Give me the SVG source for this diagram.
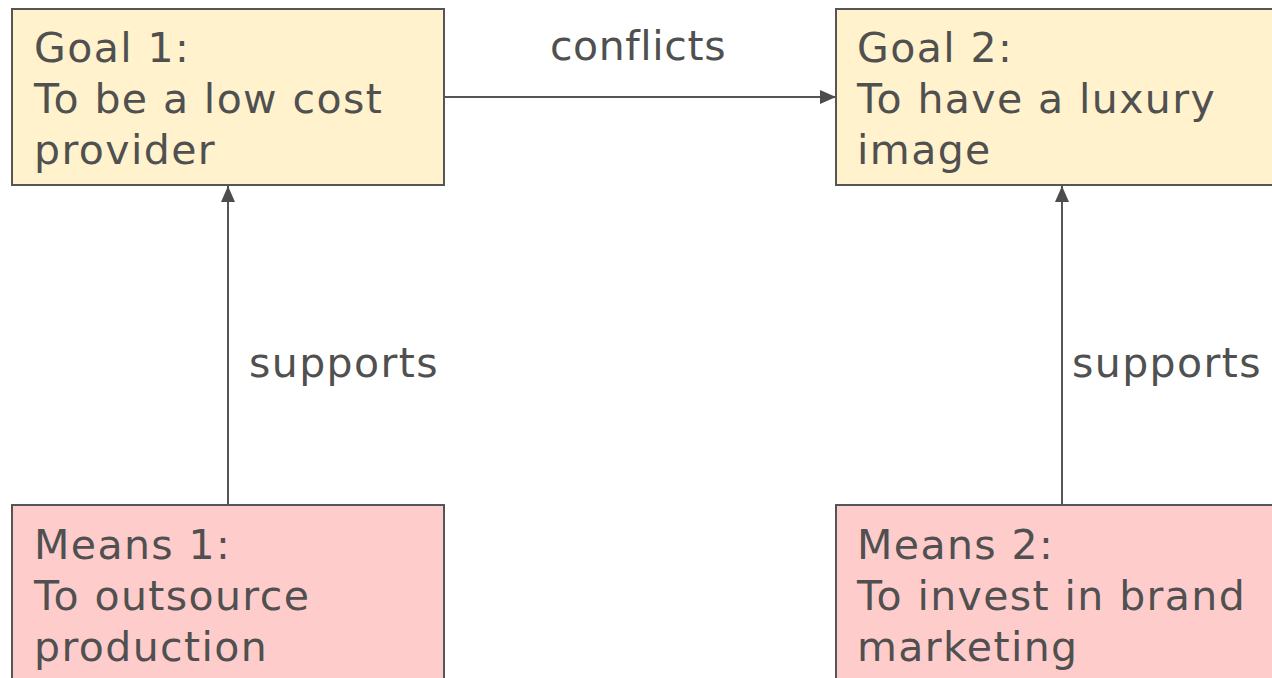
<svg xmlns="http://www.w3.org/2000/svg" width="1272" height="678" viewBox="0 0 1272 678">
  <defs>
    <style>
      .txt { font-family: "DejaVu Sans", "Noto Sans", sans-serif; font-size: 41px; fill: #505050; letter-spacing: 1.4px; }
      .goal { fill: #fff2cc; stroke: #555555; stroke-width: 2; }
      .means { fill: #ffcccc; stroke: #555555; stroke-width: 2; }
      .edge { stroke: #555555; stroke-width: 2; fill: none; }
    </style>
    <marker id="arrowHead" viewBox="0 0 16 14" refX="16" refY="7" markerWidth="16" markerHeight="14" markerUnits="userSpaceOnUse" orient="auto">
      <path d="M0,0 L16,7 L0,14 Z" fill="#4d4d4d"/>
    </marker>
  </defs>

  <rect width="1272" height="678" fill="#ffffff"/>

  <g id="connectors">
    <line class="edge" x1="444" y1="97" x2="836" y2="97" marker-end="url(#arrowHead)"/>
    <line class="edge" x1="228" y1="505" x2="228" y2="186" marker-end="url(#arrowHead)"/>
    <line class="edge" x1="1062" y1="505" x2="1062" y2="186" marker-end="url(#arrowHead)"/>
    <text class="txt" x="638" y="60" text-anchor="middle" style="letter-spacing:0.6px">conflicts</text>
    <text class="txt" x="249" y="377">supports</text>
    <text class="txt" x="1072" y="377">supports</text>
  </g>

  <g id="goal1">
    <rect class="goal" x="12" y="9" width="432" height="176"/>
    <text class="txt" x="34" y="62">Goal 1:</text>
    <text class="txt" x="34" y="113">To be a low cost</text>
    <text class="txt" x="34" y="164">provider</text>
  </g>

  <g id="goal2">
    <rect class="goal" x="836" y="9" width="450" height="176"/>
    <text class="txt" x="857" y="62">Goal 2:</text>
    <text class="txt" x="857" y="113">To have a luxury</text>
    <text class="txt" x="857" y="164">image</text>
  </g>

  <g id="means1">
    <rect class="means" x="12" y="505" width="432" height="190"/>
    <text class="txt" x="34" y="559">Means 1:</text>
    <text class="txt" x="34" y="610">To outsource</text>
    <text class="txt" x="34" y="661">production</text>
  </g>

  <g id="means2">
    <rect class="means" x="836" y="505" width="450" height="190"/>
    <text class="txt" x="857" y="559">Means 2:</text>
    <text class="txt" x="857" y="610">To invest in brand</text>
    <text class="txt" x="857" y="661">marketing</text>
  </g>
</svg>
